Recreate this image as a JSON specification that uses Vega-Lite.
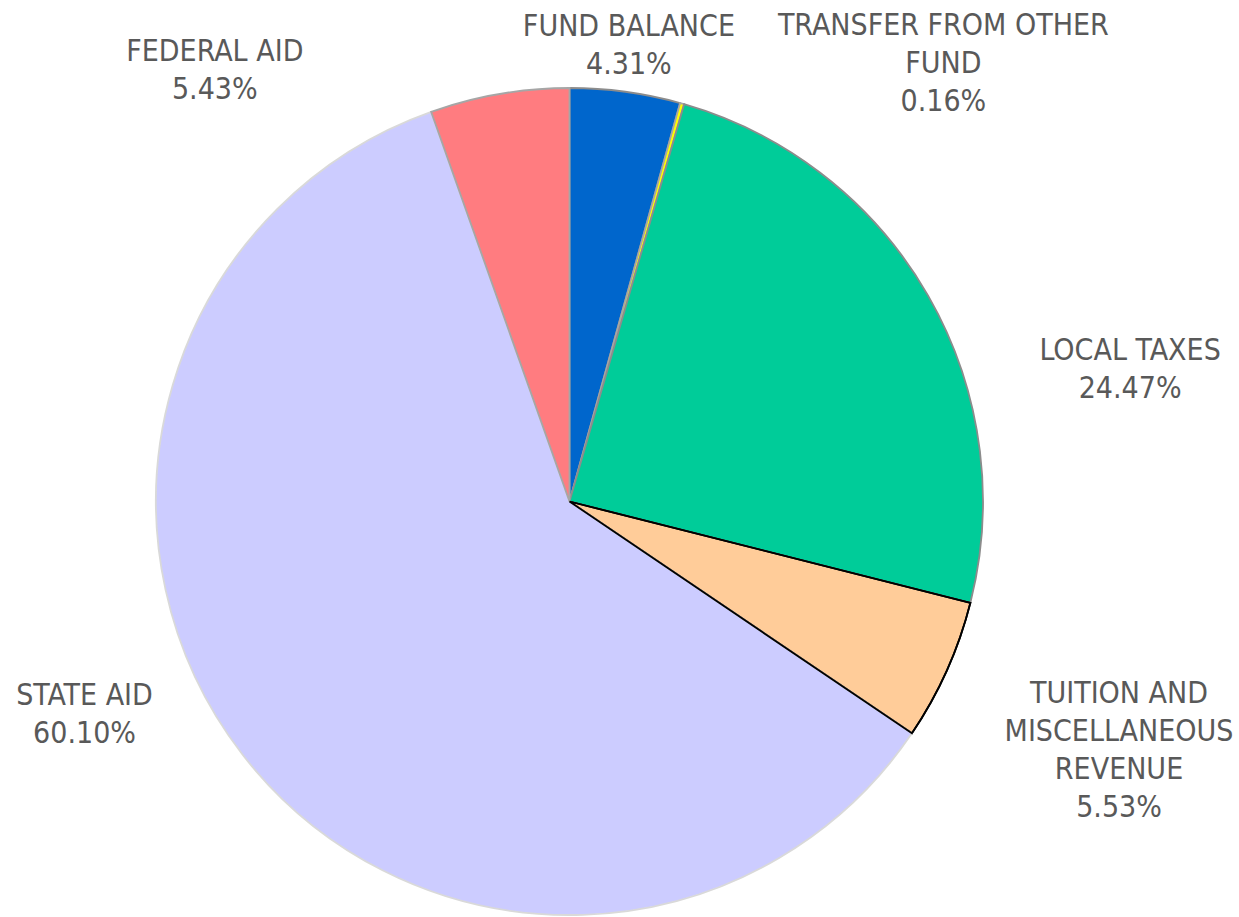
{
  "$schema": "https://vega.github.io/schema/vega-lite/v6.json",
  "width": 827,
  "height": 827,
  "autosize": {"type": "none"},
  "padding": {"left": 156, "top": 88, "right": 256, "bottom": 2},
  "background": "white",
  "config": {"view": {"stroke": null}},
  "data": {
    "values": [
      {"order": 1, "category": "FUND BALANCE", "label": "FUND BALANCE", "value": 4.31},
      {"order": 2, "category": "TRANSFER FROM OTHER FUND", "label": "TRANSFER FROM OTHER|FUND", "value": 0.16},
      {"order": 3, "category": "LOCAL TAXES", "label": "LOCAL TAXES", "value": 24.47},
      {"order": 4, "category": "TUITION AND MISCELLANEOUS REVENUE", "label": "TUITION AND|MISCELLANEOUS|REVENUE", "value": 5.53},
      {"order": 5, "category": "STATE AID", "label": "STATE AID", "value": 60.10},
      {"order": 6, "category": "FEDERAL AID", "label": "FEDERAL AID", "value": 5.43}
    ]
  },
  "transform": [
    {"window": [{"op": "sum", "field": "value", "as": "cum"}], "sort": [{"field": "order"}]},
    {"calculate": "datum.cum - datum.value / 2", "as": "mid"},
    {"calculate": "datum.cum - datum.value", "as": "start"},
    {"calculate": "datum.label + '|' + format(datum.value, '.2f') + '%'", "as": "labelText"}
  ],
  "layer": [
    {
      "mark": {"type": "arc", "strokeWidth": 1.8},
      "encoding": {
        "theta": {"field": "value", "type": "quantitative", "stack": true, "scale": {"domain": [0, 100]}},
        "order": {"field": "order", "type": "quantitative"},
        "color": {
          "field": "category", "type": "nominal", "legend": null,
          "scale": {
            "domain": ["FUND BALANCE", "TRANSFER FROM OTHER FUND", "LOCAL TAXES", "TUITION AND MISCELLANEOUS REVENUE", "STATE AID", "FEDERAL AID"],
            "range": ["#0066CC", "#FFFF00", "#00CC99", "#FFCC99", "#CCCCFF", "#FF7C80"]
          }
        },
        "stroke": {
          "field": "category", "type": "nominal", "legend": null,
          "scale": {
            "domain": ["FUND BALANCE", "TRANSFER FROM OTHER FUND", "LOCAL TAXES", "TUITION AND MISCELLANEOUS REVENUE", "STATE AID", "FEDERAL AID"],
            "range": ["#8C8C8C", "#A6A6A6", "#8C8C8C", "#000000", "#D9D9D9", "#A6A6A6"]
          }
        }
      }
    },
    {
      "transform": [{"filter": "datum.order == 4"}],
      "mark": {"type": "arc", "fill": "transparent", "stroke": "#000000", "strokeWidth": 1.8},
      "encoding": {
        "theta": {"field": "start", "type": "quantitative", "stack": null},
        "theta2": {"field": "cum"}
      }
    },
    {
      "transform": [{"filter": "datum.order == 1"}],
      "mark": {"type": "text", "radius": 440, "dx": 0, "dy": -30, "align": "center", "baseline": "alphabetic", "font": "DejaVu Sans Condensed", "fontSize": 30, "lineHeight": 38, "lineBreak": "|", "color": "#595959"},
      "encoding": {"theta": {"field": "mid", "type": "quantitative", "stack": null}, "text": {"field": "labelText"}}
    },
    {
      "transform": [{"filter": "datum.order == 2"}],
      "mark": {"type": "text", "radius": 440, "dx": 254, "dy": -43, "align": "center", "baseline": "alphabetic", "font": "DejaVu Sans Condensed", "fontSize": 30, "lineHeight": 38, "lineBreak": "|", "color": "#595959"},
      "encoding": {"theta": {"field": "mid", "type": "quantitative", "stack": null}, "text": {"field": "labelText"}}
    },
    {
      "transform": [{"filter": "datum.order == 3"}],
      "mark": {"type": "text", "radius": 440, "dx": 179, "dy": 78, "align": "center", "baseline": "alphabetic", "font": "DejaVu Sans Condensed", "fontSize": 30, "lineHeight": 38, "lineBreak": "|", "color": "#595959"},
      "encoding": {"theta": {"field": "mid", "type": "quantitative", "stack": null}, "text": {"field": "labelText"}}
    },
    {
      "transform": [{"filter": "datum.order == 4"}],
      "mark": {"type": "text", "radius": 440, "dx": 148, "dy": 22, "align": "center", "baseline": "alphabetic", "font": "DejaVu Sans Condensed", "fontSize": 30, "lineHeight": 38, "lineBreak": "|", "color": "#595959"},
      "encoding": {"theta": {"field": "mid", "type": "quantitative", "stack": null}, "text": {"field": "labelText"}}
    },
    {
      "transform": [{"filter": "datum.order == 5"}],
      "mark": {"type": "text", "radius": 440, "dx": -137, "dy": -66, "align": "center", "baseline": "alphabetic", "font": "DejaVu Sans Condensed", "fontSize": 30, "lineHeight": 38, "lineBreak": "|", "color": "#595959"},
      "encoding": {"theta": {"field": "mid", "type": "quantitative", "stack": null}, "text": {"field": "labelText"}}
    },
    {
      "transform": [{"filter": "datum.order == 6"}],
      "mark": {"type": "text", "radius": 440, "dx": -280, "dy": -7, "align": "center", "baseline": "alphabetic", "font": "DejaVu Sans Condensed", "fontSize": 30, "lineHeight": 38, "lineBreak": "|", "color": "#595959"},
      "encoding": {"theta": {"field": "mid", "type": "quantitative", "stack": null}, "text": {"field": "labelText"}}
    }
  ]
}
